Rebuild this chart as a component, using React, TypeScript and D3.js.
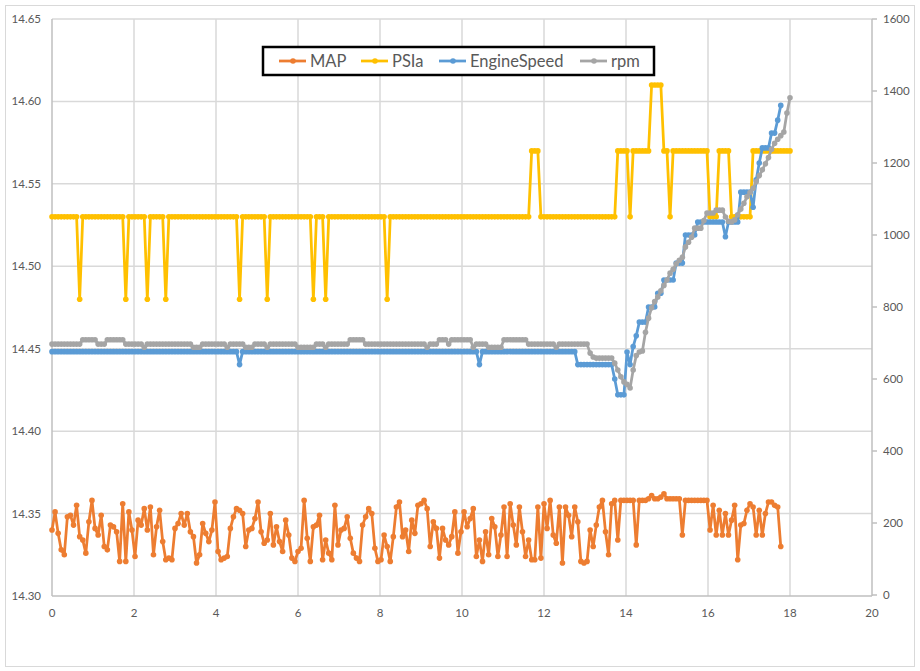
import { useEffect, useRef } from "react"
import * as d3 from "d3"

// log sample interval (x units between consecutive readings)
const SAMPLE_STEP = 0.075

const mapValues = [
  14.340, 14.351, 14.338, 14.328, 14.325, 14.348, 14.349, 14.343, 14.355, 14.336,
  14.334, 14.326, 14.345, 14.358, 14.341, 14.337, 14.349, 14.330, 14.328, 14.343,
  14.342, 14.339, 14.321, 14.356, 14.321, 14.351, 14.340, 14.324, 14.346, 14.343,
  14.353, 14.340, 14.354, 14.325, 14.342, 14.352, 14.333, 14.322, 14.323, 14.322,
  14.341, 14.344, 14.350, 14.343, 14.350, 14.339, 14.336, 14.320, 14.325, 14.344,
  14.338, 14.333, 14.340, 14.357, 14.327, 14.322, 14.323, 14.324, 14.341, 14.348,
  14.353, 14.352, 14.350, 14.330, 14.340, 14.341, 14.347, 14.357, 14.339, 14.332,
  14.334, 14.350, 14.331, 14.342, 14.333, 14.327, 14.346, 14.337, 14.323, 14.321,
  14.327, 14.329, 14.358, 14.335, 14.321, 14.342, 14.343, 14.349, 14.322, 14.334,
  14.326, 14.322, 14.355, 14.331, 14.340, 14.341, 14.348, 14.335, 14.326, 14.323,
  14.321, 14.343, 14.348, 14.353, 14.350, 14.329, 14.321, 14.322, 14.337, 14.330,
  14.321, 14.336, 14.354, 14.357, 14.336, 14.340, 14.327, 14.346, 14.338, 14.355,
  14.356, 14.358, 14.353, 14.330, 14.345, 14.341, 14.323, 14.341, 14.334, 14.331,
  14.336, 14.351, 14.326, 14.339, 14.351, 14.342, 14.347, 14.353, 14.324, 14.334,
  14.321, 14.339, 14.325, 14.347, 14.342, 14.324, 14.337, 14.354, 14.324, 14.356,
  14.343, 14.331, 14.354, 14.339, 14.324, 14.334, 14.322, 14.322, 14.354, 14.323,
  14.356, 14.341, 14.358, 14.337, 14.332, 14.354, 14.320, 14.354, 14.349, 14.336,
  14.354, 14.345, 14.321, 14.320, 14.321, 14.340, 14.330, 14.343, 14.354, 14.358,
  14.339, 14.325, 14.356, 14.358, 14.334, 14.358, 14.358, 14.358, 14.358, 14.358,
  14.331, 14.358, 14.358, 14.358, 14.359, 14.361, 14.359, 14.359, 14.360, 14.362,
  14.359, 14.359, 14.359, 14.359, 14.359, 14.337, 14.358, 14.358, 14.358, 14.358,
  14.358, 14.358, 14.358, 14.358, 14.340, 14.355, 14.337, 14.352, 14.337, 14.350,
  14.337, 14.346, 14.355, 14.322, 14.343, 14.344, 14.352, 14.356, 14.354, 14.337,
  14.352, 14.337, 14.350, 14.357, 14.357, 14.355, 14.354, 14.330,
]

const psiaValues = [
  14.53, 14.53, 14.53, 14.53, 14.53, 14.53, 14.53, 14.53, 14.53, 14.48,
  14.53, 14.53, 14.53, 14.53, 14.53, 14.53, 14.53, 14.53, 14.53, 14.53,
  14.53, 14.53, 14.53, 14.53, 14.48, 14.53, 14.53, 14.53, 14.53, 14.53,
  14.53, 14.48, 14.53, 14.53, 14.53, 14.53, 14.53, 14.48, 14.53, 14.53,
  14.53, 14.53, 14.53, 14.53, 14.53, 14.53, 14.53, 14.53, 14.53, 14.53,
  14.53, 14.53, 14.53, 14.53, 14.53, 14.53, 14.53, 14.53, 14.53, 14.53,
  14.53, 14.48, 14.53, 14.53, 14.53, 14.53, 14.53, 14.53, 14.53, 14.53,
  14.48, 14.53, 14.53, 14.53, 14.53, 14.53, 14.53, 14.53, 14.53, 14.53,
  14.53, 14.53, 14.53, 14.53, 14.53, 14.48, 14.53, 14.53, 14.53, 14.48,
  14.53, 14.53, 14.53, 14.53, 14.53, 14.53, 14.53, 14.53, 14.53, 14.53,
  14.53, 14.53, 14.53, 14.53, 14.53, 14.53, 14.53, 14.53, 14.53, 14.48,
  14.53, 14.53, 14.53, 14.53, 14.53, 14.53, 14.53, 14.53, 14.53, 14.53,
  14.53, 14.53, 14.53, 14.53, 14.53, 14.53, 14.53, 14.53, 14.53, 14.53,
  14.53, 14.53, 14.53, 14.53, 14.53, 14.53, 14.53, 14.53, 14.53, 14.53,
  14.53, 14.53, 14.53, 14.53, 14.53, 14.53, 14.53, 14.53, 14.53, 14.53,
  14.53, 14.53, 14.53, 14.53, 14.53, 14.53, 14.57, 14.57, 14.57, 14.53,
  14.53, 14.53, 14.53, 14.53, 14.53, 14.53, 14.53, 14.53, 14.53, 14.53,
  14.53, 14.53, 14.53, 14.53, 14.53, 14.53, 14.53, 14.53, 14.53, 14.53,
  14.53, 14.53, 14.53, 14.53, 14.57, 14.57, 14.57, 14.57, 14.53, 14.57,
  14.57, 14.57, 14.57, 14.57, 14.57, 14.61, 14.61, 14.61, 14.61, 14.57,
  14.57, 14.53, 14.57, 14.57, 14.57, 14.57, 14.57, 14.57, 14.57, 14.57,
  14.57, 14.57, 14.57, 14.57, 14.53, 14.53, 14.53, 14.57, 14.57, 14.57,
  14.57, 14.53, 14.53, 14.53, 14.53, 14.53, 14.53, 14.53, 14.57, 14.57,
  14.57, 14.57, 14.57, 14.57, 14.57, 14.57, 14.57, 14.57, 14.57, 14.57,
  14.57,
]

const engineSpeedValues = [
  676, 676, 676, 676, 676, 676, 676, 676, 676, 676,
  676, 676, 676, 676, 676, 676, 676, 676, 676, 676,
  676, 676, 676, 676, 676, 676, 676, 676, 676, 676,
  676, 676, 676, 676, 676, 676, 676, 676, 676, 676,
  676, 676, 676, 676, 676, 676, 676, 676, 676, 676,
  676, 676, 676, 676, 676, 676, 676, 676, 676, 676,
  676, 640, 676, 676, 676, 676, 676, 676, 676, 676,
  676, 676, 676, 676, 676, 676, 676, 676, 676, 676,
  676, 676, 676, 676, 676, 676, 676, 676, 676, 676,
  676, 676, 676, 676, 676, 676, 676, 676, 676, 676,
  676, 676, 676, 676, 676, 676, 676, 676, 676, 676,
  676, 676, 676, 676, 676, 676, 676, 676, 676, 676,
  676, 676, 676, 676, 676, 676, 676, 676, 676, 676,
  676, 676, 676, 676, 676, 676, 676, 676, 676, 640,
  676, 676, 676, 676, 676, 676, 676, 676, 676, 676,
  676, 676, 676, 676, 676, 676, 676, 676, 676, 676,
  676, 676, 676, 676, 676, 676, 676, 676, 676, 676,
  676, 640, 640, 640, 640, 640, 640, 640, 640, 640,
  640, 640, 640, 600, 556, 556, 556, 675, 640, 690,
  720, 758, 758, 758, 800, 800, 800, 838, 838, 875,
  875, 875, 875, 922, 922, 922, 1000, 1000, 1000, 1000,
  1036, 1036, 1036, 1036, 1036, 1036, 1036, 1036, 1036, 995,
  1036, 1036, 1036, 1036, 1119, 1119, 1119, 1119, 1077, 1153,
  1200, 1242, 1242, 1242, 1283, 1283, 1319, 1360,
]

const rpmValues = [
  697, 697, 697, 697, 697, 697, 697, 697, 697, 697,
  709, 709, 709, 709, 709, 697, 697, 697, 709, 709,
  709, 709, 709, 709, 697, 697, 697, 697, 697, 697,
  688, 697, 697, 697, 697, 697, 697, 697, 697, 697,
  697, 697, 697, 697, 697, 697, 688, 688, 688, 697,
  697, 697, 697, 697, 697, 697, 697, 688, 697, 697,
  697, 697, 697, 688, 688, 688, 697, 697, 697, 697,
  688, 697, 697, 697, 697, 697, 697, 697, 697, 697,
  688, 688, 688, 688, 688, 688, 697, 697, 697, 688,
  697, 697, 697, 697, 697, 697, 697, 709, 709, 709,
  709, 709, 697, 697, 697, 697, 697, 697, 697, 697,
  697, 697, 697, 697, 697, 697, 697, 697, 697, 697,
  697, 697, 688, 697, 697, 697, 709, 709, 709, 697,
  709, 709, 709, 709, 709, 709, 709, 688, 697, 697,
  697, 697, 688, 688, 688, 688, 688, 709, 709, 709,
  709, 709, 709, 709, 709, 697, 697, 697, 697, 697,
  697, 697, 697, 697, 688, 697, 697, 697, 697, 697,
  697, 697, 697, 697, 697, 672, 661, 658, 658, 658,
  658, 658, 658, 644, 625, 606, 592, 585, 575, 625,
  665, 675, 678, 730, 769, 798, 815, 828, 845, 860,
  875, 894, 905, 920, 930, 938, 967, 980, 994, 1019,
  1019, 1019, 1040, 1061, 1061, 1061, 1069, 1069, 1069, 1050,
  1038, 1036, 1042, 1056, 1072, 1088, 1106, 1118, 1130, 1148,
  1165, 1181, 1198, 1215, 1238, 1255, 1266, 1276, 1286, 1339,
  1381,
]

const leftTicks = [14.3, 14.35, 14.4, 14.45, 14.5, 14.55, 14.6, 14.65]
const rightTicks = [0, 200, 400, 600, 800, 1000, 1200, 1400, 1600]
const xTicks = [0, 2, 4, 6, 8, 10, 12, 14, 16, 18, 20]

const seriesNames = ["MAP", "PSIa", "EngineSpeed", "rpm"]
const seriesColors = ["#ED7D31", "#FFC000", "#5B9BD5", "#A5A5A5"]

const FONT = "Lato, 'Open Sans', sans-serif"

export default function App() {
  const svgRef = useRef<SVGSVGElement>(null)

  useEffect(() => {
    if (!svgRef.current) return
    const svg = d3.select(svgRef.current)
    svg.selectAll("*").remove()

    const width = 920
    const height = 671
    const plot = { left: 52, right: 872, top: 19, bottom: 596 }

    const x = d3.scaleLinear().domain([0, 20]).range([plot.left, plot.right])
    const yLeft = d3.scaleLinear().domain([14.3, 14.65]).range([plot.bottom, plot.top])
    const yRight = d3.scaleLinear().domain([0, 1600]).range([plot.bottom - 1, plot.top])

    svg.append("rect").attr("width", width).attr("height", height).attr("fill", "#fff")
    // chart border
    svg
      .append("rect")
      .attr("x", 5.5)
      .attr("y", 5.5)
      .attr("width", 909)
      .attr("height", 661)
      .attr("fill", "none")
      .attr("stroke", "#D9D9D9")

    // gridlines
    const grid = svg.append("g")
    leftTicks.slice(1).forEach((t) => {
      grid
        .append("line")
        .attr("x1", plot.left)
        .attr("x2", plot.right)
        .attr("y1", yLeft(t))
        .attr("y2", yLeft(t))
        .attr("stroke", "#D9D9D9")
        .attr("stroke-width", 1.5)
    })
    xTicks.slice(1, -1).forEach((t) => {
      grid
        .append("line")
        .attr("x1", x(t))
        .attr("x2", x(t))
        .attr("y1", plot.top)
        .attr("y2", plot.bottom)
        .attr("stroke", "#D9D9D9")
        .attr("stroke-width", 1.5)
    })

    // axis lines
    const axes = svg.append("g").attr("stroke", "#BFBFBF").attr("stroke-width", 1.5)
    axes.append("line").attr("x1", plot.left).attr("x2", plot.left).attr("y1", plot.top).attr("y2", plot.bottom)
    axes.append("line").attr("x1", plot.left).attr("x2", plot.right).attr("y1", plot.bottom).attr("y2", plot.bottom)
    axes.append("line").attr("x1", plot.right).attr("x2", plot.right).attr("y1", plot.top).attr("y2", plot.bottom)
    rightTicks.forEach((t) => {
      axes
        .append("line")
        .attr("x1", plot.right)
        .attr("x2", plot.right + 5)
        .attr("y1", yRight(t))
        .attr("y2", yRight(t))
    })

    // tick labels
    const labels = svg
      .append("g")
      .style("font-family", FONT)
      .style("font-size", "11.5px")
      .attr("fill", "#595959")
    leftTicks.forEach((t) => {
      labels
        .append("text")
        .attr("x", 41)
        .attr("y", yLeft(t))
        .attr("dy", "0.35em")
        .attr("text-anchor", "end")
        .text(d3.format(".2f")(t))
    })
    rightTicks.forEach((t) => {
      labels
        .append("text")
        .attr("x", 883)
        .attr("y", yRight(t))
        .attr("dy", "0.35em")
        .text(t)
    })
    xTicks.forEach((t) => {
      labels
        .append("text")
        .attr("x", x(t))
        .attr("y", 617)
        .attr("text-anchor", "middle")
        .text(t)
    })

    // series
    const series = [
      { values: mapValues, y: yLeft },
      { values: psiaValues, y: yLeft },
      { values: engineSpeedValues, y: yRight },
      { values: rpmValues, y: yRight },
    ]
    series.forEach((s, si) => {
      const pts = s.values.map((v, i) => [x(i * SAMPLE_STEP), s.y(v)] as [number, number])
      const g = svg.append("g")
      g.append("path")
        .attr("d", d3.line()(pts))
        .attr("fill", "none")
        .attr("stroke", seriesColors[si])
        .attr("stroke-width", 2.75)
        .attr("stroke-linejoin", "round")
      g.selectAll("circle")
        .data(pts)
        .enter()
        .append("circle")
        .attr("cx", (d) => d[0])
        .attr("cy", (d) => d[1])
        .attr("r", 2.8)
        .attr("fill", seriesColors[si])
    })

    // legend
    const legend = svg.append("g")
    legend
      .append("rect")
      .attr("x", 263)
      .attr("y", 47)
      .attr("width", 391)
      .attr("height", 28)
      .attr("fill", "#fff")
      .attr("stroke", "#000")
      .attr("stroke-width", 2.5)
    const itemX = [279, 361, 439, 580]
    seriesNames.forEach((name, i) => {
      const lx = itemX[i]
      legend
        .append("line")
        .attr("x1", lx)
        .attr("x2", lx + 27)
        .attr("y1", 61)
        .attr("y2", 61)
        .attr("stroke", seriesColors[i])
        .attr("stroke-width", 2.75)
      legend.append("circle").attr("cx", lx + 14).attr("cy", 61).attr("r", 2.8).attr("fill", seriesColors[i])
      legend
        .append("text")
        .attr("x", lx + 31)
        .attr("y", 67)
        .style("font-family", FONT)
        .style("font-size", "16.5px")
        .attr("fill", "#595959")
        .text(name)
    })
  }, [])

  return (
    <svg
      ref={svgRef}
      width={920}
      height={671}
      style={{ position: "absolute", left: 0, top: 0, display: "block" }}
    />
  )
}
